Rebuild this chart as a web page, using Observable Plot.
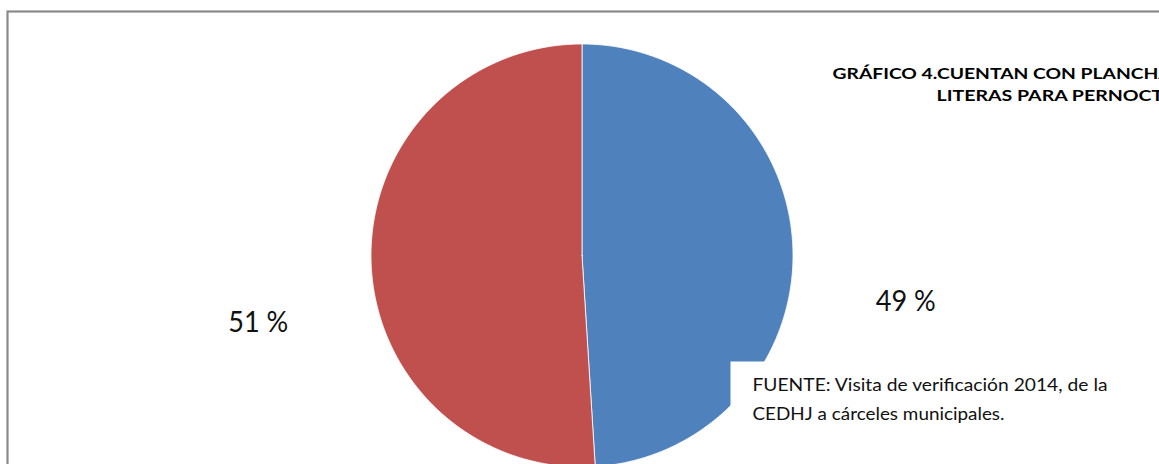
<!DOCTYPE html>
<html>
<head>
<meta charset="utf-8">
<script src="https://cdn.jsdelivr.net/npm/d3@7"></script>
<script src="https://cdn.jsdelivr.net/npm/@observablehq/plot@0.6"></script>
<style>
  html, body { margin: 0; padding: 0; background: #fff; overflow: hidden; }
  #wrap { position: relative; width: 1159px; height: 464px; overflow: hidden; }
</style>
</head>
<body>
<div id="wrap"></div>
<script>
// ---- data ----
const categories = ["Sí", "No"];
const values = [49, 51];
const sliceColors = ["#4F81BD", "#C0504D"];
const labels = ["49 %", "51 %"];
const titleLines = ["GRÁFICO 4.CUENTAN CON PLANCHAS O", "LITERAS PARA PERNOCTAR"];
const sourceLines = ["FUENTE: Visita de verificación 2014, de la", "CEDHJ a cárceles municipales."];

const FONT = "Lato, 'Open Sans', sans-serif";

// ---- slice polygons in unit space, derived from the values ----
const total = d3.sum(values);
const polys = [];
const labelPts = [];
let start = 0;
values.forEach((v, i) => {
  const a0 = start / total * 2 * Math.PI;
  const a1 = (start + v) / total * 2 * Math.PI;
  const n = Math.max(2, Math.ceil((a1 - a0) / 0.01));
  polys.push({cat: categories[i], x: 0, y: 0});
  for (let k = 0; k <= n; k++) {
    const a = a0 + (a1 - a0) * k / n;
    polys.push({cat: categories[i], x: Math.sin(a), y: Math.cos(a)});
  }
  polys.push({cat: categories[i], x: 0, y: 0});
  const am = (a0 + a1) / 2;
  labelPts.push({cat: categories[i], label: labels[i], x: 1.535 * Math.sin(am), y: 1.535 * Math.cos(am)});
  start += v;
});

const chart = Plot.plot({
  width: 1159,
  height: 464,
  margin: 0,
  style: {background: "#fff", overflow: "hidden"},
  x: {domain: [-1, 1], range: [370.5, 792.5], axis: null},
  y: {domain: [-1, 1], range: [466.5, 43.5], axis: null},
  color: {domain: categories, range: sliceColors},
  marks: [
    Plot.frame({stroke: "#8a8a8a", strokeWidth: 2.2, insetLeft: 7, insetTop: 11, insetRight: -20, insetBottom: -20}),
    Plot.line(polys, {x: "x", y: "y", z: "cat", fill: "cat", stroke: "#fff", strokeWidth: 1, strokeOpacity: 0.8}),
    Plot.text(labelPts, {x: "x", y: "y", text: "label", dy: 57, fontSize: 28.7, fill: "#111",
      fontFamily: FONT, className: "pielabel"}),
    Plot.text([titleLines[0]], {frameAnchor: "top-left", lineAnchor: "top", dx: 832, dy: 68.1, text: d => d,
      textAnchor: "start", fontSize: 15.3, fontWeight: "bold", fill: "#000", fontFamily: FONT, className: "title1"}),
    Plot.text([titleLines[1]], {frameAnchor: "top-left", lineAnchor: "top", dx: 936, dy: 89.6, text: d => d,
      textAnchor: "start", fontSize: 15.3, fontWeight: "bold", fill: "#000", fontFamily: FONT, className: "title2"}),
    // white box of the source note, overlapping the pie
    Plot.frame({fill: "#fff", stroke: "none", insetLeft: 730, insetTop: 361, insetRight: -20, insetBottom: -20}),
    Plot.text([sourceLines[0]], {frameAnchor: "top-left", lineAnchor: "top", dx: 752, dy: 377.5, text: d => d,
      textAnchor: "start", fontSize: 17.6, fill: "#111", fontFamily: FONT, className: "src1"}),
    Plot.text([sourceLines[1]], {frameAnchor: "top-left", lineAnchor: "top", dx: 752, dy: 407, text: d => d,
      textAnchor: "start", fontSize: 17.6, fill: "#111", fontFamily: FONT, className: "src2"})
  ]
});
document.getElementById("wrap").appendChild(chart);

// stretch texts horizontally to the widths of the reference typeface
function fit(cls, prefixOf, target) {
  const g = chart.querySelector("g." + cls);
  if (!g) return;
  g.querySelectorAll("text").forEach(t => {
    const tmp = document.createElementNS("http://www.w3.org/2000/svg", "text");
    tmp.textContent = prefixOf(t.textContent);
    g.appendChild(tmp);
    const w = tmp.getComputedTextLength();
    g.removeChild(tmp);
    const full = t.getComputedTextLength();
    if (w > 0) {
      t.setAttribute("textLength", (full * target / w).toFixed(2));
      t.setAttribute("lengthAdjust", "spacingAndGlyphs");
    }
  });
}
fit("title1", s => s.slice(0, "GRÁFICO 4.CUENTAN CON PLANC".length), 311);
fit("title2", s => s.slice(0, "LITERAS PARA PERNOC".length), 215);
fit("pielabel", s => s, 60);
fit("src1", s => s, 355);
fit("src2", s => s, 252);
</script>
</body>
</html>
